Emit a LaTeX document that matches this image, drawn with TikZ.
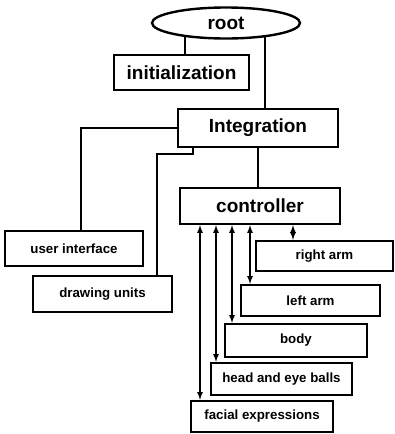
\documentclass[tikz,border=0pt]{standalone}
\usepackage{fontspec}
\setmainfont{Liberation Sans}
\usetikzlibrary{shapes.geometric}

\begin{document}
\begin{tikzpicture}[x=1pt, y=-1pt, >=latex,
    bigbox/.style={shape=rectangle, draw=black, line width=2.4pt, inner sep=0pt, font=\fontsize{19}{22}\selectfont\bfseries},
    smallbox/.style={shape=rectangle, draw=black, line width=2.4pt, inner sep=0pt, font=\fontsize{13.3}{15}\selectfont\bfseries},
    link/.style={line width=1.6pt}]
    \useasboundingbox (0,0) rectangle (395,434);

    % Draw nodes
    \node[bigbox, shape=ellipse, minimum width=148pt, minimum height=31pt] (root) at (226,23) {root};
    \node[bigbox, minimum width=135pt, minimum height=35pt] (init) at (181.5,72.5) {initialization};
    \node[bigbox, minimum width=160pt, minimum height=38pt] (integ) at (258,128) {Integration};
    \node[bigbox, minimum width=160pt, minimum height=36pt] (ctrl) at (260,206) {controller};

    \node[smallbox, minimum width=138pt, minimum height=35pt] (ui) at (74,248.5) {user interface};
    \node[smallbox, minimum width=139pt, minimum height=36pt] (du) at (102.5,294) {drawing units};

    \node[smallbox, minimum width=137pt, minimum height=30pt] (rarm) at (324.5,256) {right arm};
    \node[smallbox, minimum width=139pt, minimum height=31pt] (larm) at (310.5,300.5) {left arm};
    \node[smallbox, minimum width=142pt, minimum height=33pt] (body) at (296,340.5) {body};
    \node[smallbox, minimum width=141pt, minimum height=32pt] (head) at (281.5,379) {head and eye balls};
    \node[smallbox, minimum width=142pt, minimum height=31pt] (face) at (262,416.5) {facial expressions};

    % Draw edges
    \draw[link] (root.199) -- (root.199 |- init.north);
    \draw[link] (root.340) -- (root.340 |- integ.north);
    \draw[link] (integ.west) -| ([xshift=7pt]ui.north);
    \draw[link] ([xshift=-65pt]integ.south) -- ++(0,6) -| ([xshift=54.5pt]du.north);
    \draw[link] (integ.south) -- (integ.south |- ctrl.north);

    % Draw the two-way links from the controller
    \foreach \n/\x in {rarm/293, larm/250, body/232, head/216, face/200} {
        \draw[link, <->] (ctrl.south -| \x,0) -- (\n.north -| \x,0);
    }
\end{tikzpicture}
\end{document}
